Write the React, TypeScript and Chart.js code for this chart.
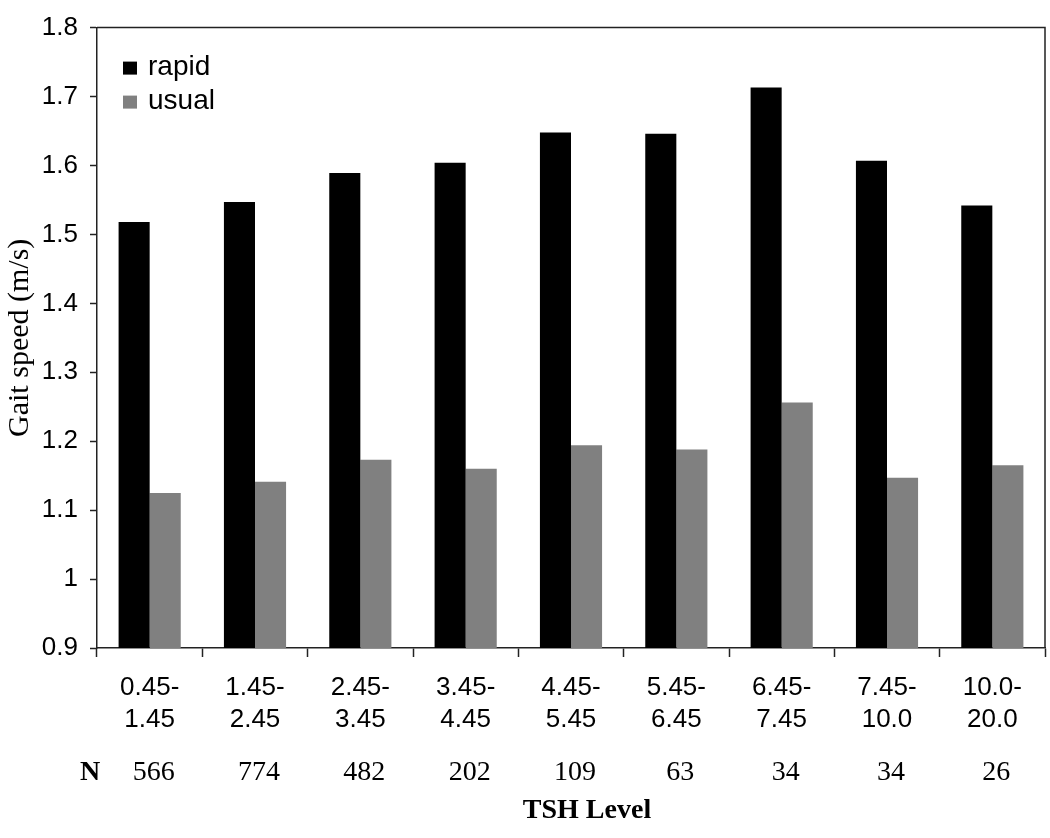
import React, { useEffect, useRef } from 'react';
import { Chart, registerables } from 'chart.js';

Chart.register(...registerables);

const categories: string[][] = [
  ['0.45-', '1.45'],
  ['1.45-', '2.45'],
  ['2.45-', '3.45'],
  ['3.45-', '4.45'],
  ['4.45-', '5.45'],
  ['5.45-', '6.45'],
  ['6.45-', '7.45'],
  ['7.45-', '10.0'],
  ['10.0-', '20.0'],
];
const rapidValues = [1.518, 1.547, 1.589, 1.604, 1.648, 1.646, 1.713, 1.607, 1.542];
const usualValues = [1.125, 1.141, 1.173, 1.16, 1.194, 1.188, 1.256, 1.147, 1.165];
const nCounts = ['566', '774', '482', '202', '109', '63', '34', '34', '26'];
const yMin = 0.9;
const yMax = 1.8;
const yStep = 0.1;

const SANS = "'Liberation Sans', Arial, sans-serif";
const SERIF = "'Liberation Serif', 'Times New Roman', serif";

const extrasPlugin = {
  id: 'extras',
  afterDraw(chart: any) {
    const ctx = chart.ctx;
    const area = chart.chartArea;
    const xs = chart.scales.x;
    ctx.save();
    // frame top and right
    ctx.strokeStyle = '#222';
    ctx.lineWidth = 1.5;
    ctx.beginPath();
    ctx.moveTo(area.left, area.top);
    ctx.lineTo(area.right, area.top);
    ctx.lineTo(area.right, area.bottom);
    ctx.stroke();

    // legend inside plot
    const ds = chart.data.datasets;
    ctx.font = `28px ${SANS}`;
    ctx.textBaseline = 'alphabetic';
    ctx.textAlign = 'left';
    ds.forEach((d: any, i: number) => {
      const baseY = area.top + 47 + i * 34;
      ctx.fillStyle = d.backgroundColor;
      ctx.fillRect(area.left + 26, baseY - 13, 14, 13);
      ctx.fillStyle = '#000';
      ctx.fillText(d.label, area.left + 51, baseY);
    });

    // N row
    ctx.fillStyle = '#000';
    ctx.textBaseline = 'middle';
    ctx.textAlign = 'center';
    ctx.font = `bold 28px ${SERIF}`;
    ctx.fillText('N', area.left - 7, 773);
    ctx.font = `28px ${SERIF}`;
    nCounts.forEach((n, i) => {
      ctx.fillText(n, xs.getPixelForValue(i) + 4, 773);
    });

    // axis title
    ctx.font = `bold 28px ${SERIF}`;
    ctx.fillText('TSH Level', (area.left + area.right) / 2 + 16, 811);
    ctx.restore();
  },
};

export default function App() {
  const ref = useRef<HTMLCanvasElement | null>(null);

  useEffect(() => {
    document.body.style.margin = '0';
    const canvas = ref.current;
    if (!canvas) return;
    const chart = new Chart(canvas, {
      type: 'bar',
      data: {
        labels: categories as any,
        datasets: [
          {
            label: 'rapid',
            data: rapidValues,
            backgroundColor: '#000000',
            barPercentage: 1.0,
            categoryPercentage: 0.59,
          },
          {
            label: 'usual',
            data: usualValues,
            backgroundColor: '#808080',
            barPercentage: 1.0,
            categoryPercentage: 0.59,
          },
        ],
      },
      options: {
        responsive: false,
        animation: false,
        layout: { padding: { top: 22, right: 5, left: 0, bottom: 0 } },
        plugins: {
          legend: { display: false },
          tooltip: { enabled: false },
        },
        scales: {
          x: {
            offset: true,
            grid: {
              offset: true,
              drawOnChartArea: false,
              drawTicks: true,
              tickLength: 9,
              tickWidth: 1.5,
              tickColor: '#222',
            },
            border: { display: true, color: '#222', width: 1.5 },
            ticks: {
              color: '#000',
              padding: 15,
              maxRotation: 0,
              autoSkip: false,
              font: { family: SANS, size: 26, lineHeight: 1.23 },
            },
            afterFit(scale: any) {
              scale.height = 190;
            },
          },
          y: {
            min: yMin,
            max: yMax,
            grid: {
              drawOnChartArea: false,
              drawTicks: true,
              tickLength: 7,
              tickWidth: 1.5,
              tickColor: '#222',
            },
            border: { display: true, color: '#222', width: 1.5 },
            ticks: {
              stepSize: yStep,
              color: '#000',
              padding: 12,
              font: { family: SANS, size: 26 },
              callback: (v: any) => String(Number(Number(v).toFixed(1))),
            },
            title: {
              display: true,
              text: 'Gait speed (m/s)',
              color: '#000',
              padding: { top: 2, bottom: 0 },
              font: { family: SERIF, size: 30, weight: 'normal' },
            },
            afterFit(scale: any) {
              scale.width = 97;
            },
          },
        },
      },
      plugins: [extrasPlugin],
    });
    return () => chart.destroy();
  }, []);

  return (
    <div style={{ width: 1050, height: 838 }}>
      <canvas ref={ref} width={1050} height={838} style={{ display: 'block' }} />
    </div>
  );
}
